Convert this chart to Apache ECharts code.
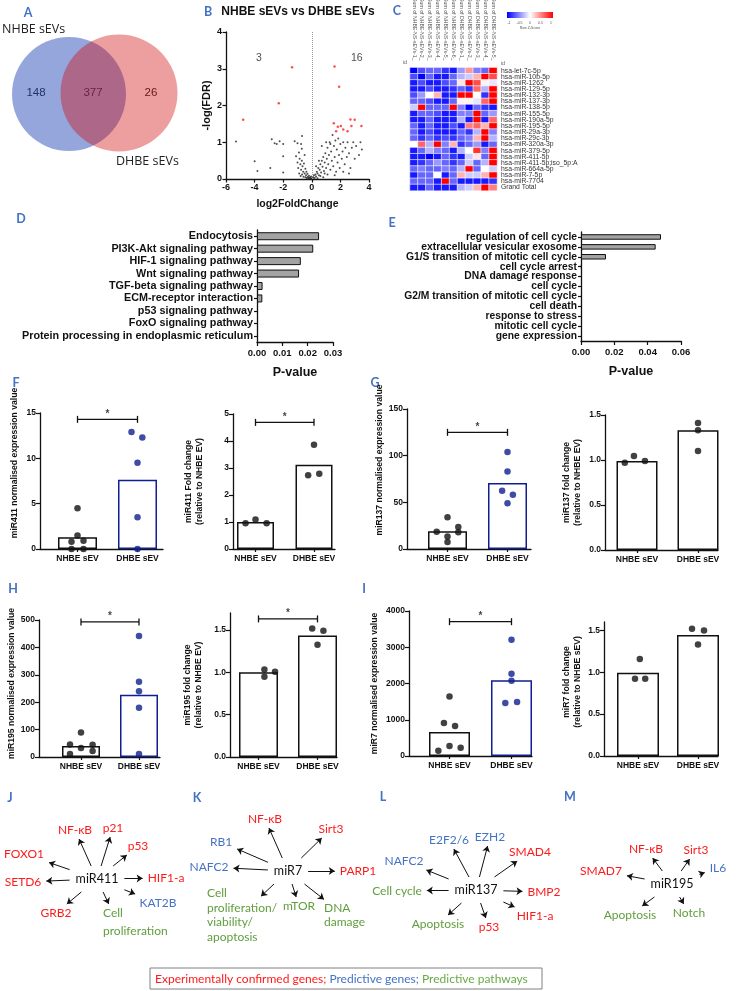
<!DOCTYPE html>
<html>
<head>
<meta charset="utf-8">
<script src="https://cdn.jsdelivr.net/npm/echarts@6/dist/echarts.min.js"></script>
<style>
  html, body { margin: 0; padding: 0; background: #fff; }
  #chart { width: 738px; height: 991px; }
</style>
</head>
<body>
<div id="chart"></div>
<script>
// ---------------- data ----------------
const vennSets = ['NHBE sEVs', 'DHBE sEVs'];
const vennCounts = [148, 377, 26];

// volcano: [log2FoldChange, -log(FDR)]
const volcanoGrey = [
  [-5.3, 1.02], [-4.0, 0.48], [-3.8, 0.22], [-2.9, 0.3], [-2.8, 1.08], [-2.6, 0.97], [-2.45, 0.95],
  [-2.25, 1.03], [-2.0, 0.95], [-2.0, 0.62], [-2.0, 0.18], [-1.2, 1.03], [-1.0, 0.97], [-0.75, 0.95],
  [-0.68, 1.17], [-1.1, 0.62], [-1.0, 0.45], [-0.95, 0.3], [-0.9, 0.72], [-0.88, 0.15], [-0.85, 0.55],
  [-0.8, 0.4], [-0.78, 0.08], [-0.75, 0.25], [-0.7, 0.82], [-0.7, 0.5], [-0.68, 0.12], [-0.65, 0.35],
  [-0.6, 0.2], [-0.58, 0.06], [-0.55, 0.42], [-0.5, 0.15], [-0.5, 0.65], [-0.45, 0.28], [-0.45, 0.05],
  [-0.4, 0.1], [-0.38, 0.2], [-0.35, 0.03], [-0.3, 0.14], [-0.28, 0.06], [-0.25, 0.02], [-0.2, 0.09],
  [-0.18, 0.03], [-0.12, 0.05], [-0.08, 0.02], [-0.05, 0.07], [-0.02, 0.01],
  [0.05, 0.02], [0.1, 0.05], [0.15, 0.1], [0.2, 0.03], [0.25, 0.12], [0.3, 0.07], [0.35, 0.2],
  [0.4, 0.15], [0.45, 0.3], [0.5, 0.1], [0.55, 0.25], [0.6, 0.4], [0.65, 0.18], [0.7, 0.5],
  [0.75, 0.33], [0.8, 0.6], [0.85, 0.22], [0.9, 0.45], [0.95, 0.7], [1.0, 0.3], [1.05, 0.55],
  [1.1, 0.85], [1.15, 0.4], [1.2, 0.65], [1.25, 1.0], [1.3, 0.25], [1.35, 0.75], [1.4, 0.5],
  [1.45, 1.2], [1.5, 0.35], [1.55, 0.9], [1.6, 0.6], [1.65, 1.05], [1.7, 0.2], [1.75, 0.8],
  [1.8, 0.45], [1.85, 1.1], [1.9, 0.65], [1.95, 0.3], [2.0, 0.95], [2.1, 0.55], [2.15, 0.75],
  [2.2, 1.0], [2.3, 0.4], [2.35, 0.85], [2.45, 0.6], [2.5, 1.0], [2.6, 0.7], [2.7, 0.3],
  [2.8, 0.85], [2.9, 1.0], [3.0, 0.55], [3.1, 0.9], [3.3, 0.65], [3.4, 1.0], [3.5, 0.8],
  [0.3, 0.35], [0.5, 0.5], [0.9, 0.15], [1.1, 0.12], [0.6, 0.08], [0.8, 0.05], [0.4, 0.02],
  [1.3, 0.95], [1.6, 0.1], [2.6, 0.15], [2.2, 0.2], [0.7, 0.9], [1.0, 1.0]
];
const volcanoRed = [
  [-4.8, 1.61], [-2.31, 2.06], [-1.38, 3.04],
  [1.59, 3.06], [1.91, 2.51], [1.54, 1.52], [1.82, 1.42], [2.03, 1.44], [2.7, 1.62],
  [3.0, 1.61], [2.77, 1.44], [3.47, 1.44], [2.2, 1.35], [2.5, 1.3], [1.7, 1.3]
];
const volcanoCounts = ['3', '16'];

const heatCols = [
  'Sum of NHBE-NS-sEVs-1_', 'Sum of NHBE-NS-sEVs-2_', 'Sum of NHBE-NS-sEVs-3_',
  'Sum of NHBE-NS-sEVs-4_', 'Sum of NHBE-NS-sEVs-5_', 'Sum of NHBE-NS-sEVs-6_',
  'Sum of DHBE-NS-sEVs-1_', 'Sum of DHBE-NS-sEVs-2_', 'Sum of DHBE-NS-sEVs-3_',
  'Sum of DHBE-NS-sEVs-4_', 'Sum of DHBE-NS-sEVs-5_'
];
const heatRows = [
  'hsa-let-7c-5p', 'hsa-miR-10b-5p', 'hsa-miR-1262', 'hsa-miR-129-5p', 'hsa-miR-132-3p',
  'hsa-miR-137-3p', 'hsa-miR-138-5p', 'hsa-miR-155-5p', 'hsa-miR-190a-5p', 'hsa-miR-195-5p',
  'hsa-miR-29a-3p', 'hsa-miR-29c-3p', 'hsa-miR-320a-3p', 'hsa-miR-379-5p', 'hsa-miR-411-5p',
  'hsa-miR-411-5p;iso_5p:A', 'hsa-miR-664a-5p', 'hsa-miR-7-5p', 'hsa-miR-7704', 'Grand Total'
];
// row z-scores, one row per miRNA, one value per sample column
const heatZ = [
  [-1, -0.7, -0.6, -0.6, -0.8, -0.9, -0.4, 0.4, -0.5, -0.6, 1],
  [-0.7, -1, -0.6, -0.9, -0.9, -0.6, -0.3, -0.2, 0.3, 1, 0.7],
  [-0.9, -0.7, -0.9, -0.9, -0.7, -0.6, 0.1, 1, 0.7, 0.05, -0.1],
  [-0.9, -0.9, -0.7, -0.9, -0.9, -0.8, -0.6, -0.8, 0.6, -0.3, 1],
  [-0.7, -0.4, 0, 0.3, -0.9, -0.9, 1, 1, 0, -0.8, 1],
  [-0.6, -0.6, -0.7, -0.9, -0.9, -0.6, 0.05, 0.05, -0.1, 0.6, 1],
  [-0.2, 1, -0.6, -0.6, -0.6, 1, -0.5, -1, -0.6, -0.8, -0.9],
  [-0.9, -0.6, -0.6, -0.7, -0.9, -0.9, -0.5, -0.5, 1, -0.6, -0.4],
  [-0.9, -0.9, -0.6, -0.9, -0.9, -0.9, -0.3, -0.9, 1, -0.9, 0.6],
  [-0.6, -0.9, -0.6, -0.9, -0.9, -0.7, -0.9, 0.5, 0.6, 0.3, 1],
  [-0.6, -0.9, -0.7, -0.9, -0.9, -0.9, -0.6, -0.8, -0.3, 1, -0.5],
  [-0.6, -0.8, -0.6, -0.8, -0.7, -0.8, -0.6, -0.5, 0.3, 1, -0.3],
  [0, 0.6, -0.3, 1, -0.5, 0.3, -0.8, -0.6, -0.4, -0.9, -0.6],
  [-0.9, -0.6, -0.3, -0.5, -0.6, -0.9, -0.3, 0, 0.8, -0.5, 1],
  [-0.9, -0.9, -1, -0.9, -0.6, -0.8, -0.9, -0.2, 0.1, -0.6, 1],
  [-0.9, -0.8, -0.6, -0.4, -0.6, -0.8, -0.6, -0.2, -0.6, -0.3, 1],
  [-0.6, -0.5, -0.6, -0.6, -0.5, -0.6, -0.3, 1, -0.6, 0, -0.2],
  [-0.9, -0.6, -0.6, 0, -0.9, -0.6, 0.3, -0.2, -0.2, 0.3, 1],
  [-0.6, -0.6, -0.6, -0.9, 1, -0.6, -0.9, -0.9, -0.9, -0.9, -0.8],
  [-0.9, -0.9, -0.6, -0.9, -0.9, -0.9, -0.3, -0.2, 0.3, 1, 0.5]
];

const keggTerms = ['Endocytosis', 'PI3K-Akt signaling pathway', 'HIF-1 signaling pathway',
  'Wnt signaling pathway', 'TGF-beta signaling pathway', 'ECM-receptor interaction',
  'p53 signaling pathway', 'FoxO signaling pathway', 'Protein processing in endoplasmic reticulum'];
const keggP = [0.0245, 0.0222, 0.0173, 0.0166, 0.0022, 0.0021, 0.0004, 0, 0];

const goTerms = ['regulation of cell cycle', 'extracellular vesicular exosome',
  'G1/S transition of mitotic cell cycle', 'cell cycle arrest', 'DNA damage response', 'cell cycle',
  'G2/M transition of mitotic cell cycle', 'cell death', 'response to stress', 'mitotic cell cycle',
  'gene expression'];
const goP = [0.048, 0.0448, 0.015, 0.0005, 0, 0, 0, 0, 0, 0, 0];

const groups = ['NHBE sEV', 'DHBE sEV'];
const mir411ExprN = [4.5, 1.5, 0.8, 0.9, 0, 0];
const mir411ExprD = [12.9, 12.3, 9.5, 3.5, 0];
const mir411ExprBar = [1.3, 7.65];
const mir411FoldN = [0.95, 1.09, 0.95];
const mir411FoldD = [3.86, 2.73, 2.79];
const mir411FoldBar = [1.0, 3.12];
const mir137ExprN = [34, 18.5, 23.5, 13.5, 7.5, 18];
const mir137ExprD = [104, 83, 62.5, 58, 49];
const mir137ExprBar = [19, 70.7];
const mir137FoldN = [1.045, 0.97, 0.99];
const mir137FoldD = [1.41, 1.33, 1.10];
const mir137FoldBar = [0.99, 1.33];
const mir195ExprN = [89, 46, 33, 45, 11, 22];
const mir195ExprD = [442, 275, 240, 180, 11];
const mir195ExprBar = [40, 227];
const mir195FoldN = [1.034, 1.006, 0.947];
const mir195FoldD = [1.516, 1.49, 1.326];
const mir195FoldBar = [1.0, 1.433];
const mir7ExprN = [1640, 912, 830, 276, 230, 147];
const mir7ExprD = [3207, 2267, 2074, 1465, 1493];
const mir7ExprBar = [663, 2092];
const mir7FoldN = [1.159, 0.923, 0.923];
const mir7FoldD = [1.52, 1.50, 1.33];
const mir7FoldBar = [0.995, 1.444];
// height of the significance bracket (data units), null = no bracket
const sigBrackets = [14.3, 4.69, 125, null, 493, 1.63, 3705, 1.67];

// target networks: kind e = experimentally confirmed, g = predictive gene, p = predictive pathway
const mir411Targets = ['NF-κB', 'p21', 'p53', 'FOXO1', 'SETD6', 'HIF1-a', 'GRB2', 'Cell\nproliferation', 'KAT2B'];
const mir411Kinds = ['e', 'e', 'e', 'e', 'e', 'e', 'e', 'p', 'g'];
const mir7Targets = ['NF-κB', 'Sirt3', 'RB1', 'NAFC2', 'PARP1', 'Cell\nproliferation/\nviability/\napoptosis', 'mTOR', 'DNA\ndamage'];
const mir7Kinds = ['e', 'e', 'g', 'g', 'e', 'p', 'p', 'p'];
const mir137Targets = ['E2F2/6', 'EZH2', 'SMAD4', 'NAFC2', 'Cell cycle', 'BMP2', 'Apoptosis', 'p53', 'HIF1-a'];
const mir137Kinds = ['g', 'g', 'e', 'g', 'p', 'e', 'p', 'e', 'e'];
const mir195Targets = ['NF-κB', 'Sirt3', 'SMAD7', 'IL6', 'Apoptosis', 'Notch'];
const mir195Kinds = ['e', 'e', 'e', 'g', 'p', 'p'];

// ---------------- style / layout ----------------
const FONT = 'Liberation Sans';
const CAL = 'Lato';
const INK = '#111';
const NAVY = '#0f1f8f';
const LETTER = '#4472c4';
const kindColor = { e: '#ff1a1a', g: '#4472c4', p: '#5f9e3d' };

const chart = echarts.init(document.getElementById('chart'));

const grids = [], xAxes = [], yAxes = [], series = [], graphic = [];

function addGrid(g, xa, ya) {
  // keep every grid exactly where it is placed, even if labels spill outside
  grids.push(Object.assign({ outerBoundsMode: 'none', containLabel: false }, g));
  const gi = grids.length - 1;
  xa.gridIndex = gi; ya.gridIndex = gi;
  xAxes.push(xa); yAxes.push(ya);
  return gi;
}
const bold = (size) => ({ fontFamily: FONT, fontWeight: 'bold', fontSize: size, color: INK });
const axLine = { show: true, onZero: false, lineStyle: { color: INK, width: 1.3 } };
const axTick = (len) => ({ show: true, length: len, lineStyle: { color: INK, width: 1.2 } });

function text(x, y, str, st) {
  graphic.push({ type: 'text', x, y, silent: true,
    style: Object.assign({ text: str, fill: INK, fontFamily: FONT, fontSize: 11, align: 'left', verticalAlign: 'middle' }, st) });
}

// full-canvas helper grid (pixel units) for venn and diagrams
addGrid({ left: 0, top: 0, width: 738, height: 991 },
  { type: 'value', min: 0, max: 738, show: false },
  { type: 'value', min: 0, max: 991, inverse: true, show: false });

// ---- A: venn ----
series.push({ type: 'scatter', xAxisIndex: 0, yAxisIndex: 0, silent: true, symbolSize: 114,
  data: [[69, 94]], itemStyle: { color: 'rgba(33,68,183,0.6)' } });
series.push({ type: 'scatter', xAxisIndex: 0, yAxisIndex: 0, silent: true, symbolSize: 117,
  data: [[119, 93]], itemStyle: { color: 'rgba(211,13,13,0.5)' } });
const vennCountPos = [[36, 93], [93, 93], [151, 93]];
vennCounts.forEach((c, i) => text(vennCountPos[i][0], vennCountPos[i][1], String(c), { align: 'center', fontSize: 11.5, fill: '#222' }));
text(2, 29, vennSets[0], { fontSize: 12.5, fill: '#222', fontFamily: 'Open Sans' });
text(116, 161, vennSets[1], { fontSize: 12.5, fill: '#222', fontFamily: 'Open Sans' });

// ---- B: volcano ----
const gB = addGrid({ left: 226, top: 32, width: 143, height: 147 },
  { type: 'value', min: -6, max: 4, interval: 2, splitLine: { show: false }, axisLine: axLine, axisTick: axTick(3.5),
    axisLabel: Object.assign(bold(9), { margin: 4 }),
    name: 'log2FoldChange', nameLocation: 'middle', nameGap: 20, nameTextStyle: bold(10.5) },
  { type: 'value', min: 0, max: 4, interval: 1, splitLine: { show: false }, axisLine: axLine, axisTick: axTick(3.5),
    axisLabel: Object.assign(bold(9), { margin: 4 }),
    name: '-log(FDR)', nameLocation: 'middle', nameRotate: 90, nameGap: 14, nameTextStyle: bold(11) });
series.push({ type: 'scatter', xAxisIndex: gB, yAxisIndex: gB, symbolSize: 2, data: volcanoGrey,
  itemStyle: { color: '#222' },
  markLine: { silent: true, symbol: 'none', label: { show: false },
    lineStyle: { color: '#999', type: 'dotted', width: 1 }, data: [{ xAxis: 0 }] } });
series.push({ type: 'scatter', xAxisIndex: gB, yAxisIndex: gB, symbolSize: 2.5, data: volcanoRed,
  itemStyle: { color: '#ff2020' } });
const volcanoCountPos = [[-3.7, 3.3], [3.15, 3.3]];
series.push({ type: 'scatter', xAxisIndex: gB, yAxisIndex: gB, symbolSize: 1,
  itemStyle: { color: 'rgba(0,0,0,0)' },
  data: volcanoCounts.map((c, i) => ({ value: volcanoCountPos[i], name: c })),
  label: { show: true, position: 'inside', formatter: '{b}', fontFamily: FONT, fontSize: 10.5, color: '#222' } });
text(298, 12, 'NHBE sEVs vs DHBE sEVs', { align: 'center', fontWeight: 'bold', fontSize: 12 });

// ---- C: heatmap ----
const gC = addGrid({ left: 410, top: 67.6, width: 87, height: 123 },
  { type: 'category', data: heatCols, position: 'top', axisLine: { show: false }, axisTick: { show: false },
    axisLabel: { rotate: 90, fontSize: 5.2, color: '#555', margin: 7, interval: 0, fontFamily: FONT } },
  { type: 'category', data: heatRows, inverse: true, position: 'right', axisLine: { show: false }, axisTick: { show: false },
    axisLabel: { fontSize: 6.8, color: '#333', margin: 4, interval: 0, fontFamily: FONT } });
const heatData = [];
heatZ.forEach((row, r) => row.forEach((z, c) => heatData.push([c, r, z])));
series.push({ type: 'heatmap', xAxisIndex: gC, yAxisIndex: gC, data: heatData,
  itemStyle: { borderColor: '#fff', borderWidth: 0.6 } });
const heatSeriesIndex = series.length - 1;
text(405, 62, 'id', { fontSize: 5.5, fill: '#666', align: 'center' });
text(503, 63, 'id', { fontSize: 5.5, fill: '#666', align: 'center' });
graphic.push({ type: 'rect', silent: true, shape: { x: 507, y: 12, width: 46, height: 6 },
  style: { fill: new echarts.graphic.LinearGradient(0, 0, 1, 0, [
    { offset: 0, color: '#0000ff' }, { offset: 0.5, color: '#ffffff' }, { offset: 1, color: '#ff0000' }]) } });
['-1', '-0.5', '0', '0.5', '1'].forEach((t, i) => text(509 + i * 10.5, 23, t, { fontSize: 3.5, fill: '#555', align: 'center' }));
text(530, 28, 'Row Z-Score', { fontSize: 3.5, fill: '#555', align: 'center' });

// ---- D / E: enrichment bars ----
function enrich(g, terms, vals, max, interval, labelSize, barW) {
  const gi = addGrid(g,
    { type: 'value', min: 0, max, interval, splitLine: { show: false }, axisLine: axLine, axisTick: axTick(4),
      axisLabel: Object.assign(bold(9.5), { margin: 6, formatter: (v) => v.toFixed(2) }),
      name: 'P-value', nameLocation: 'middle', nameGap: 24, nameTextStyle: bold(12.5) },
    { type: 'category', data: terms, inverse: true, axisLine: axLine,
      axisTick: Object.assign(axTick(3), { alignWithLabel: true }),
      axisLabel: Object.assign(bold(labelSize), { margin: 4, interval: 0 }) });
  series.push({ type: 'bar', xAxisIndex: gi, yAxisIndex: gi, barWidth: barW,
    data: vals.map((v) => (v > 0 ? v : '-')),
    itemStyle: { color: '#a3a3a3', borderColor: INK, borderWidth: 1 } });
}
enrich({ left: 257, top: 230, width: 76, height: 112 }, keggTerms, keggP, 0.03, 0.01, 10.8, 8);
enrich({ left: 581, top: 232, width: 100, height: 109 }, goTerms, goP, 0.06, 0.02, 10.3, 5.5);

// ---- F-I: expression dot plots ----
function dotPlot(p) {
  const unit = p.c1 - p.c0;
  const ticks = [];
  for (let v = 0; v <= p.tickMax + 1e-9; v += p.step) ticks.push(+v.toFixed(4));
  const gi = addGrid({ left: p.ax, top: p.top, width: p.xEnd - p.ax, height: p.y0 - p.top },
    { type: 'value', min: -(p.c0 - p.ax) / unit, max: (p.xEnd - p.c0) / unit, splitLine: { show: false },
      axisLine: axLine, axisTick: Object.assign(axTick(3), { customValues: [0, 1] }),
      axisLabel: Object.assign(bold(8.5), { margin: 5, customValues: [0, 1], formatter: (v) => groups[Math.round(v)] }) },
    { type: 'value', min: 0, max: p.max, splitLine: { show: false }, axisLine: axLine,
      axisTick: Object.assign(axTick(4), { customValues: ticks }),
      axisLabel: Object.assign(bold(8.5), { margin: 4, customValues: ticks,
        formatter: (v) => (p.dec ? v.toFixed(1) : String(v)) }),
      name: p.title, nameLocation: 'middle', nameRotate: 90, nameGap: p.gap,
      nameTextStyle: Object.assign(bold(8.6), { lineHeight: 11, padding: [0, 0, 0, p.lift || 0] }) });
  const dCol = p.navy ? NAVY : INK;
  series.push({ type: 'bar', xAxisIndex: gi, yAxisIndex: gi, barWidth: p.bw, z: 2,
    itemStyle: { color: '#fff', borderWidth: 1.5 },
    data: [{ value: [0, p.bar[0]], itemStyle: { borderColor: INK } },
           { value: [1, p.bar[1]], itemStyle: { borderColor: dCol } }] });
  series.push({ type: 'scatter', xAxisIndex: gi, yAxisIndex: gi, z: 3, symbolSize: 6.5,
    itemStyle: { color: INK }, data: p.n.map((v, i) => [p.jn[i], v]) });
  series.push({ type: 'scatter', xAxisIndex: gi, yAxisIndex: gi, z: 3, symbolSize: 6.5,
    itemStyle: { color: dCol }, data: p.d.map((v, i) => [1 + p.jd[i], v]) });
  if (p.sig != null) {
    series.push({ type: 'line', xAxisIndex: gi, yAxisIndex: gi, z: 4, symbol: 'rect', symbolSize: [1.3, 7],
      lineStyle: { color: INK, width: 1.3 }, itemStyle: { color: INK }, data: [[0, p.sig], [1, p.sig]] });
    series.push({ type: 'scatter', xAxisIndex: gi, yAxisIndex: gi, z: 4, symbolSize: 1,
      itemStyle: { color: 'rgba(0,0,0,0)' }, data: [[0.5, p.sig]],
      label: { show: true, formatter: '*', position: 'top', distance: 0, fontFamily: FONT, fontWeight: 'bold', fontSize: 10, color: INK } });
  }
}
const jit6 = [0, 0, -0.1, 0.1, -0.1, 0.1];
dotPlot({ ax: 40, c0: 77.5, c1: 137.5, xEnd: 163, bw: 39, top: 413, y0: 549, max: 15, tickMax: 15, step: 5,
  title: 'miR411 normalised expression value', gap: 20, lift: 36, navy: true,
  n: mir411ExprN, d: mir411ExprD, bar: mir411ExprBar, jn: jit6, jd: [-0.1, 0.08, 0, 0, 0], sig: sigBrackets[0] });
dotPlot({ ax: 233, c0: 255.5, c1: 314, xEnd: 335, bw: 37, top: 414, y0: 549, max: 5, tickMax: 5, step: 1,
  title: 'miR411 Fold change\n(relative to NHBE EV)', gap: 28,
  n: mir411FoldN, d: mir411FoldD, bar: mir411FoldBar, jn: [-0.17, 0, 0.19], jd: [0, -0.1, 0.09], sig: sigBrackets[1] });
dotPlot({ ax: 407, c0: 447.5, c1: 507.5, xEnd: 531, bw: 39, top: 409, y0: 549, max: 150, tickMax: 150, step: 50,
  title: 'miR137 normalised expression value', gap: 22, lift: 38, navy: true,
  n: mir137ExprN, d: mir137ExprD, bar: mir137ExprBar, jn: [0, -0.18, 0.18, 0, 0, 0.18], jd: [0, 0, -0.09, 0.09, 0], sig: sigBrackets[2] });
dotPlot({ ax: 605, c0: 637, c1: 698, xEnd: 718, bw: 41, top: 415, y0: 550, max: 1.5, tickMax: 1.5, step: 0.5, dec: true,
  title: 'miR137 fold change\n(relative to NHBE EV)', gap: 22,
  n: mir137FoldN, d: mir137FoldD, bar: mir137FoldBar, jn: [-0.05, -0.2, 0.13], jd: [0, 0, 0], sig: sigBrackets[3] });
dotPlot({ ax: 39, c0: 81, c1: 139, xEnd: 160, bw: 38, top: 620, y0: 757, max: 500, tickMax: 500, step: 100,
  title: 'miR195 normalised expression value', gap: 19, lift: 10, navy: true,
  n: mir195ExprN, d: mir195ExprD, bar: mir195ExprBar, jn: [0, -0.19, 0, 0.2, -0.19, 0.2], jd: [0, 0, 0, 0, 0], sig: sigBrackets[4] });
dotPlot({ ax: 230, c0: 258.5, c1: 317.5, xEnd: 337, bw: 39, top: 613, y0: 757, max: 1.7, tickMax: 1.5, step: 0.5, dec: true,
  title: 'miR195 fold change\n(relative to NHBE EV)', gap: 26,
  n: mir195FoldN, d: mir195FoldD, bar: mir195FoldBar, jn: [0.1, 0.28, 0.1], jd: [-0.09, 0.1, 0], sig: sigBrackets[5] });
dotPlot({ ax: 409, c0: 449.5, c1: 511.5, xEnd: 532, bw: 41, top: 611, y0: 756, max: 4000, tickMax: 4000, step: 1000,
  title: 'miR7 normalised expression value', gap: 29, navy: true,
  n: mir7ExprN, d: mir7ExprD, bar: mir7ExprBar, jn: [0, -0.09, 0.09, 0, 0.18, -0.18], jd: [0, 0, 0, -0.1, 0.09], sig: sigBrackets[6] });
dotPlot({ ax: 604, c0: 638, c1: 698, xEnd: 718, bw: 42, top: 622, y0: 756, max: 1.6, tickMax: 1.5, step: 0.5, dec: true,
  title: 'miR7 fold change\n(relative to NHBE sEV)', gap: 21, lift: 14,
  n: mir7FoldN, d: mir7FoldD, bar: mir7FoldBar, jn: [0.03, -0.05, 0.12], jd: [-0.1, 0.1, 0], sig: sigBrackets[7] });

// ---- J-M: target networks ----
const measure = document.createElement('canvas').getContext('2d');
function textW(s, size) { measure.font = size + 'px ' + CAL; return measure.measureText(s).width; }
const arrows = [];
function network(center, targets, kinds, lay) {
  const [cx, cy] = lay.c;
  const cw = textW(center, 12.5);
  text(cx, cy, center, { align: 'center', fontFamily: CAL, fontSize: 12.5, fill: INK });
  targets.forEach((name, i) => {
    const t = lay.t[i];
    const lines = name.split('\n');
    const lh = t.lh || 15;
    const w1 = textW(lines[0], 12);
    text(t.x, t.y - lh / 2, name, { align: t.left ? 'left' : 'center', verticalAlign: 'top',
      fontFamily: CAL, fontSize: 12, lineHeight: lh, fill: kindColor[kinds[i]] });
    let tx = t.left ? t.x + w1 / 2 : t.x, ty = t.y, hw = w1 / 2 + 5, hh = 9;
    if (t.aim) { tx = t.aim[0]; ty = t.aim[1]; hw = 2; hh = 2; }
    const dx = tx - cx, dy = ty - cy;
    const ax = Math.abs(dx) || 1e-6, ay = Math.abs(dy) || 1e-6;
    const tc = Math.min((cw / 2 + 6) / ax, 13 / ay);
    const tt = Math.min(hw / ax, hh / ay);
    arrows.push({ coords: [[cx + dx * tc, cy + dy * tc], [tx - dx * tt, ty - dy * tt]] });
  });
}
network('miR411', mir411Targets, mir411Kinds, { c: [97, 879], t: [
  { x: 75, y: 830 }, { x: 113, y: 828 }, { x: 138, y: 846 }, { x: 24, y: 854 }, { x: 23, y: 882 },
  { x: 166, y: 878 }, { x: 56, y: 913 }, { x: 103, y: 913, left: true, lh: 18 }, { x: 158, y: 903 }] });
network('miR7', mir7Targets, mir7Kinds, { c: [288, 871], t: [
  { x: 265, y: 819 }, { x: 331, y: 829 }, { x: 221, y: 842 }, { x: 209, y: 867 }, { x: 358, y: 871 },
  { x: 207, y: 893, left: true, lh: 14.7, aim: [259, 898] }, { x: 299, y: 906 },
  { x: 324, y: 908, left: true, lh: 14, aim: [326, 901] }] });
network('miR137', mir137Targets, mir137Kinds, { c: [476, 890], t: [
  { x: 449, y: 840 }, { x: 490, y: 837 }, { x: 530, y: 852 }, { x: 404, y: 861 }, { x: 397, y: 891 },
  { x: 544, y: 892 }, { x: 438, y: 924 }, { x: 489, y: 927 }, { x: 535, y: 916 }] });
network('miR195', mir195Targets, mir195Kinds, { c: [672, 884], t: [
  { x: 646, y: 849 }, { x: 696, y: 850 }, { x: 601, y: 871 }, { x: 718, y: 868 }, { x: 630, y: 915 },
  { x: 689, y: 913 }] });
series.push({ type: 'lines', coordinateSystem: 'cartesian2d', xAxisIndex: 0, yAxisIndex: 0, silent: true,
  symbol: ['none', 'arrow'], symbolSize: 6, lineStyle: { color: INK, width: 1, opacity: 1 }, data: arrows });

// legend box
graphic.push({ type: 'rect', silent: true, shape: { x: 150, y: 968, width: 392, height: 21 },
  style: { fill: '#fff', stroke: '#808080', lineWidth: 1 } });
graphic.push({ type: 'text', x: 155, y: 979, silent: true, style: {
  text: '{r|Experimentally confirmed genes; }{b|Predictive genes; }{g|Predictive pathways}',
  verticalAlign: 'middle', fontFamily: CAL, fontSize: 12,
  rich: { r: { fill: kindColor.e, fontFamily: CAL, fontSize: 12 }, b: { fill: kindColor.g, fontFamily: CAL, fontSize: 12 },
          g: { fill: '#6aaa48', fontFamily: CAL, fontSize: 12 } } } });

// panel letters
const letters = [['A', 28, 13], ['B', 208, 12], ['C', 397, 11], ['D', 21, 219], ['E', 392, 223],
  ['F', 16, 383], ['G', 375, 383], ['H', 13, 589], ['I', 364, 589], ['J', 10, 798], ['K', 197, 798],
  ['L', 383, 797], ['M', 570, 797]];
letters.forEach(([l, x, y]) => text(x, y, l, { align: 'center', fontFamily: CAL, fontWeight: 'bold', fontSize: 12.5, fill: LETTER }));

chart.setOption({
  animation: false,
  backgroundColor: '#fff',
  textStyle: { fontFamily: FONT },
  grid: grids,
  xAxis: xAxes,
  yAxis: yAxes,
  visualMap: { type: 'continuous', show: false, min: -1, max: 1, dimension: 2, seriesIndex: heatSeriesIndex,
    inRange: { color: ['#0000ff', '#ffffff', '#ff0000'] } },
  series,
  graphic
});
</script>
</body>
</html>
